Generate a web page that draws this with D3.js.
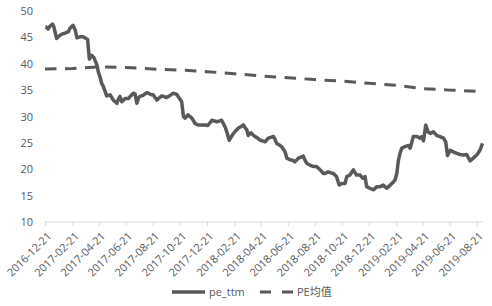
<!DOCTYPE html>
<html>
<head>
<meta charset="utf-8">
<script src="https://cdn.jsdelivr.net/npm/d3@7"></script>
<style>
    body { margin: 0; background: #fff; }
    text { font-family: "Open Sans", "Noto Sans CJK SC", sans-serif; fill: #595959; }
</style>
</head>
<body>
<div id="chart"></div>
<script>
// pe_ttm
const ttmDates = [
    "2016-12-22", "2016-12-23", "2016-12-28", "2017-01-01", "2017-01-07", "2017-01-10", "2017-01-16",
    "2017-01-24", "2017-01-28", "2017-02-04", "2017-02-12", "2017-02-15", "2017-02-22", "2017-02-27",
    "2017-03-03", "2017-03-10", "2017-03-17", "2017-03-27", "2017-03-31", "2017-04-05", "2017-04-10",
    "2017-04-17", "2017-04-20", "2017-04-24", "2017-04-28", "2017-05-01", "2017-05-09", "2017-05-17",
    "2017-05-24", "2017-06-01", "2017-06-05", "2017-06-08", "2017-06-12", "2017-06-15", "2017-06-19",
    "2017-06-27", "2017-07-01", "2017-07-08", "2017-07-12", "2017-07-16", "2017-07-20", "2017-07-23",
    "2017-07-30", "2017-08-07", "2017-08-11", "2017-08-18", "2017-08-22", "2017-08-30", "2017-09-04",
    "2017-09-10", "2017-09-21", "2017-09-29", "2017-10-06", "2017-10-14", "2017-10-17", "2017-10-25",
    "2017-10-29", "2017-11-02", "2017-11-08", "2017-11-17", "2017-11-24", "2017-12-01", "2017-12-09",
    "2017-12-17", "2017-12-23", "2018-01-01", "2018-01-12", "2018-01-17", "2018-01-23", "2018-01-31",
    "2018-02-04", "2018-02-09", "2018-02-18", "2018-02-24", "2018-03-02", "2018-03-08", "2018-03-13",
    "2018-03-21", "2018-03-24", "2018-03-30", "2018-04-04", "2018-04-08", "2018-04-13", "2018-04-20",
    "2018-04-25", "2018-05-01", "2018-05-08", "2018-05-20", "2018-05-23", "2018-05-27", "2018-06-04",
    "2018-06-07", "2018-06-15", "2018-06-19", "2018-06-26", "2018-07-02", "2018-07-07", "2018-07-15",
    "2018-07-21", "2018-07-26", "2018-07-30", "2018-08-03", "2018-08-10", "2018-08-18", "2018-08-25",
    "2018-09-02", "2018-09-09", "2018-09-13", "2018-09-20", "2018-09-27", "2018-10-02", "2018-10-09",
    "2018-10-15", "2018-10-21", "2018-10-28", "2018-11-01", "2018-11-08", "2018-11-16", "2018-11-23",
    "2018-12-01", "2018-12-07", "2018-12-12", "2018-12-16", "2018-12-23", "2018-12-31", "2019-01-08",
    "2019-01-15", "2019-01-22", "2019-01-30", "2019-02-07", "2019-02-14", "2019-02-18", "2019-02-22",
    "2019-02-25", "2019-03-01", "2019-03-05", "2019-03-12", "2019-03-20", "2019-03-24", "2019-03-31",
    "2019-04-08", "2019-04-15", "2019-04-19", "2019-04-23", "2019-04-28", "2019-05-03", "2019-05-08",
    "2019-05-15", "2019-05-23", "2019-05-30", "2019-06-07", "2019-06-12", "2019-06-16", "2019-06-22",
    "2019-06-29", "2019-07-07", "2019-07-14", "2019-07-22", "2019-07-29", "2019-08-06", "2019-08-13",
    "2019-08-21", "2019-08-28", "2019-09-03"
];
const ttmValues = [
    47.0, 47.0, 46.6, 47.1, 47.5, 47.0, 44.8,
    45.4, 45.6, 45.8, 46.1, 46.7, 47.3, 46.4,
    44.9, 45.1, 45.1, 44.6, 40.9, 41.6, 41.2,
    39.8, 38.5, 37.5, 36.2, 35.8, 33.9, 34.1,
    33.1, 32.5, 33.4, 33.8, 32.8, 33.0, 33.4,
    33.4, 33.8, 34.4, 34.3, 32.5, 33.6, 33.8,
    34.0, 34.5, 34.4, 34.1, 34.1, 33.1, 33.5,
    33.9, 33.6, 34.0, 34.4, 34.2, 33.8, 32.8,
    30.0, 29.7, 30.3, 29.7, 28.7, 28.4, 28.4,
    28.4, 28.3, 29.3, 29.0, 29.1, 29.3, 28.0,
    27.0, 25.5, 26.7, 27.3, 27.8, 28.1, 28.4,
    27.4, 26.4, 26.9, 26.5, 26.2, 26.0, 25.5,
    25.4, 25.2, 25.9, 26.2, 25.7, 24.9, 24.5,
    24.3, 23.3, 22.1, 21.8, 21.7, 21.4, 22.1,
    22.3, 22.5, 21.7, 21.1, 20.8, 20.5, 20.5,
    19.9, 19.2, 19.2, 19.5, 19.3, 19.2, 18.6,
    17.0, 17.3, 17.3, 18.6, 18.9, 19.9, 18.9,
    18.9, 18.3, 18.6, 16.7, 16.4, 16.1, 16.7,
    16.7, 17.0, 16.4, 17.0, 17.6, 18.0, 19.3,
    21.5, 23.0, 24.0, 24.3, 24.5, 24.0, 26.2,
    26.2, 25.9, 26.2, 25.4, 28.4, 27.1, 26.8,
    27.1, 26.4, 26.2, 25.9, 25.2, 22.6, 23.6,
    23.3, 23.0, 22.8, 22.7, 22.8, 21.6, 22.1,
    22.7, 23.6, 24.9
];

// PE均值
const meanDates = [
    "2016-12-21", "2017-02-21", "2017-04-21", "2017-06-21", "2017-08-21", "2017-10-21",
    "2017-12-21", "2018-02-21", "2018-04-21", "2018-06-21", "2018-08-21", "2018-10-21",
    "2018-12-21", "2019-02-21", "2019-04-21", "2019-06-21", "2019-08-21", "2019-09-03"
];
const meanValues = [
    39.0, 39.1, 39.4, 39.3, 39.0, 38.8,
    38.5, 38.1, 37.7, 37.35, 37.0, 36.7,
    36.3, 35.9, 35.3, 35.0, 34.8, 34.5
];

const tickLabels = [
    "2016-12-21", "2017-02-21", "2017-04-21", "2017-06-21", "2017-08-21", "2017-10-21",
    "2017-12-21", "2018-02-21", "2018-04-21", "2018-06-21", "2018-08-21", "2018-10-21",
    "2018-12-21", "2019-02-21", "2019-04-21", "2019-06-21", "2019-08-21"
];
const yTicks = [10, 15, 20, 25, 30, 35, 40, 45, 50];
const seriesNames = ["pe_ttm", "PE均值"];

const width = 492, height = 306;
const parse = d3.timeParse("%Y-%m-%d");

const svg = d3.select("#chart").append("svg")
    .attr("width", width)
    .attr("height", height);

const x = d3.scaleTime()
    .domain([parse("2016-12-21"), parse("2019-09-04")])
    .range([45, 483]);

const y = d3.scaleLinear()
    .domain([10, 50])
    .range([222, 11]);

// x axis
const xAxis = svg.append("g")
    .attr("transform", `translate(0,${y(10)})`)
    .call(d3.axisBottom(x)
        .tickValues(tickLabels.map(parse))
        .tickSize(4)
        .tickFormat(d3.timeFormat("%Y-%m-%d")));
xAxis.select(".domain").attr("stroke", "#d9d9d9").attr("d", `M${x.range()[0]},0H${x.range()[1]}`);
xAxis.selectAll(".tick line").attr("stroke", "#d9d9d9");
xAxis.selectAll(".tick text")
    .attr("font-size", 11)
    .attr("fill", "#595959")
    .attr("text-anchor", "end")
    .attr("transform", "translate(4,12) rotate(-45)")
    .attr("x", 0)
    .attr("y", 0)
    .attr("dy", "0.35em");

// y axis (labels only)
const yAxis = svg.append("g")
    .attr("transform", "translate(36,0)")
    .call(d3.axisLeft(y).tickValues(yTicks).tickSize(0).tickPadding(3));
yAxis.select(".domain").remove();
yAxis.selectAll(".tick text").attr("font-size", 11).attr("fill", "#595959");

// lines
const line = d3.line()
    .x(d => x(d[0]))
    .y(d => y(d[1]));

const ttm = ttmDates.map((d, i) => [parse(d), ttmValues[i]]);
const mean = meanDates.map((d, i) => [parse(d), meanValues[i]]);

svg.append("path")
    .datum(mean)
    .attr("fill", "none")
    .attr("stroke", "#595959")
    .attr("stroke-width", 3)
    .attr("stroke-dasharray", "11.5,8.5")
    .attr("d", line);

svg.append("path")
    .datum(ttm)
    .attr("fill", "none")
    .attr("stroke", "#595959")
    .attr("stroke-width", 3.5)
    .attr("stroke-linejoin", "round")
    .attr("d", line);

// legend
const legend = svg.append("g").attr("transform", "translate(0,292)");
legend.append("line")
    .attr("x1", 172).attr("x2", 205)
    .attr("stroke", "#595959").attr("stroke-width", 3.5);
legend.append("text")
    .attr("x", 209).attr("dy", "0.35em")
    .attr("font-size", 11)
    .text(seriesNames[0]);
legend.append("line")
    .attr("x1", 260).attr("x2", 293)
    .attr("stroke", "#595959").attr("stroke-width", 3)
    .attr("stroke-dasharray", "11,11");
legend.append("text")
    .attr("x", 297).attr("dy", "0.35em")
    .attr("font-size", 11)
    .text(seriesNames[1]);
</script>
</body>
</html>
